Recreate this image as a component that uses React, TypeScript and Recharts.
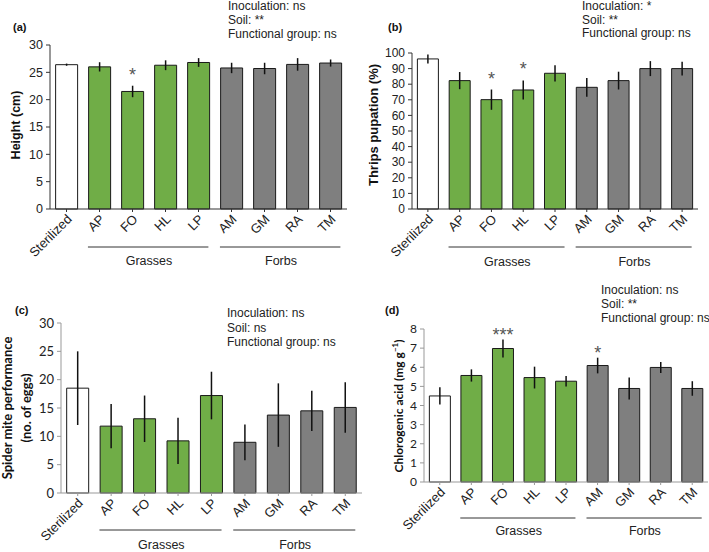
import React from "react";
import { BarChart, Bar, XAxis, YAxis, ErrorBar, Cell, LabelList } from "recharts";

// categories and plant functional group of each soil
const categories = ["Sterilized", "AP", "FO", "HL", "LP", "AM", "GM", "RA", "TM"];
const groupOf = ["control", "grass", "grass", "grass", "grass", "forb", "forb", "forb", "forb"];
const groupSpans = [
  { first: 1, span: 4, name: "Grasses" },
  { first: 5, span: 4, name: "Forbs" },
];

// (a) plant height
const heightMean = [26.4, 26.0, 21.5, 26.3, 26.8, 25.8, 25.7, 26.45, 26.7];
const heightErr = [0.2, 0.85, 1.05, 0.9, 0.8, 0.95, 1.05, 1.15, 0.65];
const heightSig = ["", "", "*", "", "", "", "", "", ""];
const heightTicks = [0, 5, 10, 15, 20, 25, 30];

// (b) thrips pupation
const pupationMean = [96.2, 82.3, 70.1, 76.3, 87.0, 78.0, 82.3, 90.0, 90.0];
const pupationErr = [2.9, 5.5, 6.5, 6.1, 5.2, 6.0, 5.7, 4.8, 4.4];
const pupationSig = ["", "", "*", "*", "", "", "", "", ""];
const pupationTicks = [0, 10, 20, 30, 40, 50, 60, 70, 80, 90, 100];

// (c) spider mite eggs
const miteMean = [18.5, 11.8, 13.1, 9.2, 17.2, 8.95, 13.75, 14.5, 15.1];
const miteErr = [6.5, 3.9, 4.1, 4.1, 4.2, 3.15, 5.6, 3.55, 4.45];
const miteSig = ["", "", "", "", "", "", "", "", ""];
const miteTicks = [0, 5, 10, 15, 20, 25, 30];

// (d) chlorogenic acid
const acidMean = [4.5, 5.57, 6.98, 5.46, 5.27, 6.09, 4.89, 5.99, 4.89];
const acidErr = [0.45, 0.32, 0.47, 0.57, 0.27, 0.41, 0.57, 0.29, 0.38];
const acidSig = ["", "", "***", "", "", "*", "", "", ""];
const acidTicks = [0, 1, 2, 3, 4, 5, 6, 7, 8];

const FILL: Record<string, string> = {
  control: "#ffffff",
  grass: "#70ad47",
  forb: "#7f7f7f",
};

const ARIAL = "'Liberation Sans', Arial, sans-serif";
const CALIBRI = "Lato, 'Liberation Sans', sans-serif";

const CategoryTick = (props: any) => {
  const { x, y, payload, band, lineDy, textDy } = props;
  const idx = payload?.index ?? props.index;
  const ax = y - 5; // axis line
  const px = x + 6;
  const py = ax + 11;
  const grp = groupSpans.find((g) => g.first === idx);
  return (
    <g>
      <text
        x={px}
        y={py}
        textAnchor="end"
        transform={`rotate(-45 ${px} ${py})`}
        fontSize={13}
        fill="#222"
        fontFamily={ARIAL}
      >
        {payload.value}
      </text>
      {grp && (
        <>
          <line
            x1={x - band * 0.35}
            x2={x + (grp.span - 1) * band + band * 0.3}
            y1={ax + lineDy}
            y2={ax + lineDy}
            stroke="#333"
            strokeWidth={1}
          />
          <text
            x={x + ((grp.span - 1) * band) / 2}
            y={ax + textDy}
            textAnchor="middle"
            fontSize={12.5}
            fill="#222"
            fontFamily={ARIAL}
          >
            {grp.name}
          </text>
        </>
      )}
    </g>
  );
};

interface PanelProps {
  left: number;
  top: number;
  width: number;
  height: number;
  margin: { top: number; right: number; bottom: number; left: number };
  yWidth: number;
  ticks: number[];
  means: number[];
  errs: number[];
  sigs: string[];
  axisColor: string;
  tickFont: string;
  tickSize: number;
  sigDy: number;
  lineDy: number;
  textDy: number;
}

const Panel: React.FC<PanelProps> = (p) => {
  const data = categories.map((name, i) => ({
    name,
    mean: p.means[i],
    err: p.errs[i],
  }));
  const plotW = p.width - p.yWidth - p.margin.left - p.margin.right;
  const band = plotW / categories.length;

  const sigLabel = (lp: any) => {
    const vb = lp.viewBox || {};
    const x = lp.x ?? vb.x;
    const y = lp.y ?? vb.y;
    const w = lp.width ?? vb.width;
    const h = lp.height ?? vb.height;
    const i = lp.index;
    const s = p.sigs[i];
    if (!s) return null;
    const ppu = Math.abs(h) / p.means[i];
    const errTop = Math.min(y, y + h) - p.errs[i] * ppu;
    return (
      <text
        x={x + w / 2}
        y={errTop + p.sigDy}
        textAnchor="middle"
        fontSize={18}
        fill="#555"
        fontFamily={ARIAL}
      >
        {s}
      </text>
    );
  };

  return (
    <div style={{ position: "absolute", left: p.left, top: p.top }}>
      <BarChart
        width={p.width}
        height={p.height}
        data={data}
        margin={{ ...p.margin, bottom: 0 }}
        barCategoryGap="17%"
      >
        <XAxis
          dataKey="name"
          interval={0}
          stroke={p.axisColor}
          tickSize={3}
          tickMargin={2}
          height={p.margin.bottom}
          tick={(tp: any) => (
            <CategoryTick {...tp} band={band} lineDy={p.lineDy} textDy={p.textDy} />
          )}
        />
        <YAxis
          width={p.yWidth}
          domain={[p.ticks[0], p.ticks[p.ticks.length - 1]]}
          ticks={p.ticks}
          interval={0}
          stroke={p.axisColor}
          tickSize={4}
          tickMargin={3}
          tick={{ fontSize: p.tickSize, fill: "#222", fontFamily: p.tickFont }}
        />
        <Bar dataKey="mean" stroke="#1a1a1a" strokeWidth={1} isAnimationActive={false}>
          {data.map((_, i) => (
            <Cell key={`c-${i}`} fill={FILL[groupOf[i]]} />
          ))}
          <ErrorBar
            dataKey="err"
            width={0}
            stroke="#111"
            strokeWidth={1.5}
            direction="y"
            isAnimationActive={false}
          />
          <LabelList dataKey="mean" content={sigLabel} />
        </Bar>
      </BarChart>
    </div>
  );
};

const YLabel: React.FC<{
  cx: number;
  cy: number;
  font: string;
  size: number;
  lineHeight?: number;
  children: React.ReactNode;
}> = ({ cx, cy, font, size, lineHeight, children }) => (
  <div
    style={{
      position: "absolute",
      left: cx,
      top: cy,
      transform: "translate(-50%, -50%) rotate(-90deg)",
      whiteSpace: "nowrap",
      fontFamily: font,
      fontWeight: 700,
      fontSize: size,
      lineHeight: lineHeight ? `${lineHeight}px` : "normal",
      textAlign: "center",
      color: "#111",
    }}
  >
    {children}
  </div>
);

const Stats: React.FC<{ left: number; top: number; lh: number; lines: string[] }> = ({
  left,
  top,
  lh,
  lines,
}) => (
  <div
    style={{
      position: "absolute",
      left,
      top,
      fontFamily: ARIAL,
      fontSize: 12,
      lineHeight: `${lh}px`,
      color: "#222",
      whiteSpace: "nowrap",
    }}
  >
    {lines.map((l) => (
      <div key={l}>{l}</div>
    ))}
  </div>
);

const Title: React.FC<{ left: number; cy: number; text: string }> = ({ left, cy, text }) => (
  <div
    style={{
      position: "absolute",
      left,
      top: cy - 6,
      fontFamily: ARIAL,
      fontWeight: 700,
      fontSize: 11,
      lineHeight: "12px",
      color: "#111",
    }}
  >
    {text}
  </div>
);

export default function App() {
  return (
    <div
      style={{
        position: "absolute",
        left: 0,
        top: 0,
        width: 709,
        height: 552,
        background: "#fff",
        overflow: "hidden",
      }}
    >
      <Panel
        left={0}
        top={0}
        width={355}
        height={275}
        margin={{ top: 45, right: 8, bottom: 66, left: 0 }}
        yWidth={50}
        ticks={heightTicks}
        means={heightMean}
        errs={heightErr}
        sigs={heightSig}
        axisColor="#333"
        tickFont={ARIAL}
        tickSize={12.5}
        sigDy={-5}
        lineDy={38}
        textDy={56}
      />
      <Panel
        left={355}
        top={0}
        width={354}
        height={275}
        margin={{ top: 53, right: 11, bottom: 66, left: 0 }}
        yWidth={57}
        ticks={pupationTicks}
        means={pupationMean}
        errs={pupationErr}
        sigs={pupationSig}
        axisColor="#333"
        tickFont={ARIAL}
        tickSize={12}
        sigDy={-5}
        lineDy={38}
        textDy={57}
      />
      <Panel
        left={0}
        top={290}
        width={362}
        height={262}
        margin={{ top: 33, right: 0, bottom: 59, left: 0 }}
        yWidth={61}
        ticks={miteTicks}
        means={miteMean}
        errs={miteErr}
        sigs={miteSig}
        axisColor="#999"
        tickFont={CALIBRI}
        tickSize={13}
        sigDy={-5}
        lineDy={37}
        textDy={56}
      />
      <Panel
        left={364}
        top={290}
        width={345}
        height={262}
        margin={{ top: 39, right: 1, bottom: 70, left: 0 }}
        yWidth={60}
        ticks={acidTicks}
        means={acidMean}
        errs={acidErr}
        sigs={acidSig}
        axisColor="#999"
        tickFont={CALIBRI}
        tickSize={12}
        sigDy={1}
        lineDy={36}
        textDy={53}
      />

      <Title left={13} cy={27} text="(a)" />
      <Title left={388} cy={27} text="(b)" />
      <Title left={15} cy={310} text="(c)" />
      <Title left={385} cy={310} text="(d)" />

      <Stats left={228} top={-1} lh={14} lines={["Inoculation: ns", "Soil: **", "Functional group: ns"]} />
      <Stats left={582} top={0} lh={13.5} lines={["Inoculation: *", "Soil: **", "Functional group: ns"]} />
      <Stats left={227} top={306} lh={14.5} lines={["Inoculation: ns", "Soil: ns", "Functional group: ns"]} />
      <Stats left={601} top={283} lh={14} lines={["Inoculation: ns", "Soil: **", "Functional group: ns"]} />

      <YLabel cx={16} cy={125} font={ARIAL} size={12.5}>
        Height (cm)
      </YLabel>
      <YLabel cx={373} cy={125} font={ARIAL} size={13}>
        Thrips pupation (%)
      </YLabel>
      <YLabel cx={17} cy={408} font={CALIBRI} size={13} lineHeight={19}>
        Spider mite performance
        <br />
        (no. of eggs)
      </YLabel>
      <YLabel cx={398} cy={406} font={CALIBRI} size={12}>
        Chlorogenic acid (mg g<sup style={{ fontSize: 8 }}>−1</sup>)
      </YLabel>
    </div>
  );
}
